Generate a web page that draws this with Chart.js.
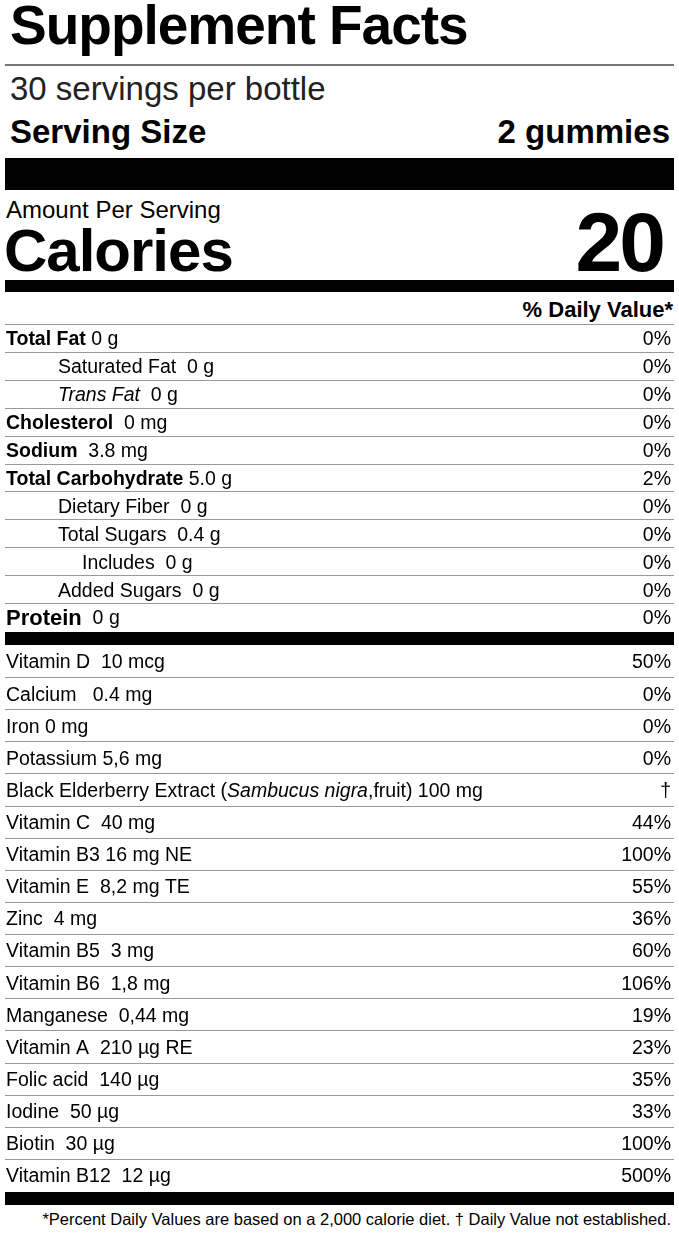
<!DOCTYPE html>
<html><head><meta charset="utf-8">
<script src="https://cdn.jsdelivr.net/npm/chart.js@4"></script>
<style>
body{margin:0;width:679px;height:1234px;background:#fff;position:relative;font-family:"Liberation Sans",Arial,sans-serif;color:#000;overflow:hidden}
.a{position:absolute;white-space:nowrap}
.bar{position:absolute;left:5px;width:669px;background:#000}
</style></head><body>
<div class="a" style="left:10px;top:-7px;font-size:55px;font-weight:bold;letter-spacing:-1px">Supplement Facts</div>
<div style="position:absolute;left:5px;width:669px;top:64px;height:2px;background:#777"></div>
<div class="a" style="left:10px;top:70px;font-size:33px;color:#222">30 servings per bottle</div>
<div class="a" style="left:10px;top:113px;font-size:33px;font-weight:bold">Serving Size</div>
<div class="a" style="right:9px;top:113px;font-size:33px;font-weight:bold">2 gummies</div>
<div class="bar" style="top:158px;height:32px"></div>
<div class="a" style="left:6px;top:196px;font-size:24px">Amount Per Serving</div>
<div class="a" style="left:4px;top:216px;font-size:60px;font-weight:bold;letter-spacing:-1px">Calories</div>
<div class="a" style="right:16px;top:194px;font-size:84px;font-weight:bold;letter-spacing:-3px">20</div>
<div class="bar" style="top:280px;height:12px"></div>
<div class="a" style="right:6px;top:297px;font-size:22px;font-weight:bold">% Daily Value*</div>
<div style="position:absolute;left:5px;width:669px;top:324px;height:1px;background:#999"></div>
<div style="position:absolute;left:0;top:325px;width:679px;height:307px"><canvas id="c1"></canvas></div>
<div class="bar" style="top:632px;height:13px"></div>
<div style="position:absolute;left:0;top:646px;width:679px;height:546px"><canvas id="c2"></canvas></div>
<div class="bar" style="top:1192px;height:13px"></div>
<div class="a" style="right:8px;top:1210px;font-size:16.5px">*Percent Daily Values are based on a 2,000 calorie diet. † Daily Value not established.</div>
<script>
// Section 1 rows: name segments [text, style], daily value
const names1 = [
 [["Total Fat","b"],[" 0 g",""]],
 [["Saturated Fat  0 g",""]],
 [["Trans Fat","i"],["  0 g",""]],
 [["Cholesterol","b"],["  0 mg",""]],
 [["Sodium","b"],["  3.8 mg",""]],
 [["Total Carbohydrate","b"],[" 5.0 g",""]],
 [["Dietary Fiber  0 g",""]],
 [["Total Sugars  0.4 g",""]],
 [["Includes  0 g",""]],
 [["Added Sugars  0 g",""]],
 [["Protein","b"],["  0 g",""]]
];
const indent1 = [0,1,1,0,0,0,1,1,2,1,0];
const dv1 = ["0%","0%","0%","0%","0%","2%","0%","0%","0%","0%","0%"];
const names2 = [
 [["Vitamin D  10 mcg",""]],
 [["Calcium   0.4 mg",""]],
 [["Iron 0 mg",""]],
 [["Potassium 5,6 mg",""]],
 [["Black Elderberry Extract (",""],["Sambucus nigra","i"],[",fruit) 100 mg",""]],
 [["Vitamin C  40 mg",""]],
 [["Vitamin B3 16 mg NE",""]],
 [["Vitamin E  8,2 mg TE",""]],
 [["Zinc  4 mg",""]],
 [["Vitamin B5  3 mg",""]],
 [["Vitamin B6  1,8 mg",""]],
 [["Manganese  0,44 mg",""]],
 [["Vitamin A  210 µg RE",""]],
 [["Folic acid  140 µg",""]],
 [["Iodine  50 µg",""]],
 [["Biotin  30 µg",""]],
 [["Vitamin B12  12 µg",""]]
];
const dv2 = ["50%","0%","0%","0%","†","44%","100%","55%","36%","60%","106%","19%","23%","35%","33%","100%","500%"];
const indent2 = names2.map(()=>0);

function makeChart(id, names, indent, dv, last){
  const labels = names.map(n=>n.map(s=>s[0]).join(""));
  const plugin = {id:"rows"+id, afterDraw(ch){
    const ctx=ch.ctx, sc=ch.scales.y;
    const half = Math.abs(sc.getPixelForValue(1)-sc.getPixelForValue(0))/2;
    ctx.save();
    names.forEach((segs,i)=>{
      const y=sc.getPixelForValue(i);
      let x=6+(indent[i]===1?52:indent[i]===2?76:0);
      ctx.textBaseline="middle";
      segs.forEach(([t,s])=>{
        const big = (id==="c1" && i===names.length-1 && s==="b");
        ctx.font=(s==="b"?"bold ":"")+(s==="i"?"italic ":"")+(big?"22px":"19.5px")+' "Liberation Sans",Arial';
        ctx.fillStyle="#000";
        ctx.fillText(t,x,y+1); x+=ctx.measureText(t).width;
      });
      ctx.font='19.5px "Liberation Sans",Arial';
      ctx.textAlign="right"; ctx.fillText(dv[i],671,y+1); ctx.textAlign="left";
      if(i<names.length-1 || !last){
        ctx.fillStyle="#999"; ctx.fillRect(5,Math.round(y+half)-1,669,1);
      }
    });
    ctx.restore();
  }};
  new Chart(document.getElementById(id),{
    type:"bar",
    data:{labels, datasets:[{data:labels.map(()=>0),backgroundColor:"rgba(0,0,0,0)"}]},
    options:{indexAxis:"y",responsive:true,maintainAspectRatio:false,animation:false,
      layout:{padding:0},
      plugins:{legend:{display:false},tooltip:{enabled:false}},
      scales:{y:{display:false,offset:true},x:{display:false,min:0,max:1}}},
    plugins:[plugin]
  });
}
makeChart("c1",names1,indent1,dv1,true);
makeChart("c2",names2,indent2,dv2,true);
</script>
</body></html>
